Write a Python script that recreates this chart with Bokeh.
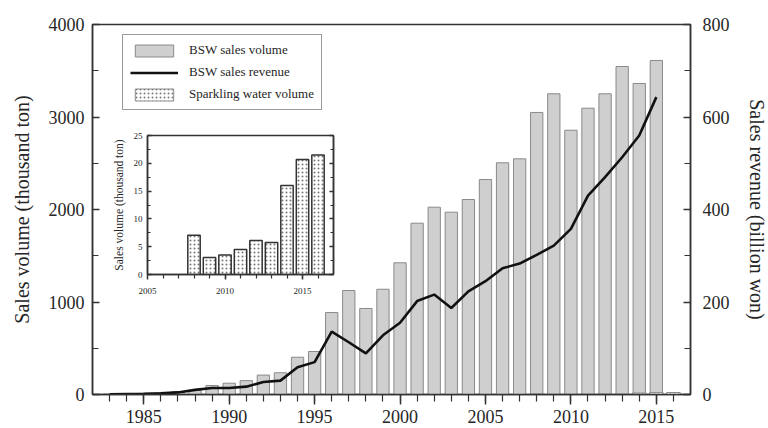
from bokeh.plotting import figure
from bokeh.models import Range1d, LinearAxis, FixedTicker, Legend, LegendItem
from bokeh.layouts import column
from bokeh.embed import file_html
from bokeh.resources import INLINE

# Bottled still water (BSW) market, 1983-2015
years = list(range(1983, 2016))
bsw_volume = [5, 8, 12, 18, 30, 45, 97, 122, 150, 210, 235, 403, 465, 886, 1124,
              930, 1138, 1424, 1852, 2025, 1971, 2108, 2324, 2505, 2548, 3049,
              3251, 2857, 3095, 3251, 3546, 3362, 3611]
bsw_revenue = [0.5, 1, 1.5, 2.5, 4.5, 10, 14, 14, 17, 27, 30, 59, 70, 136, 113,
               89, 128, 155, 202, 216, 187, 223, 245, 273, 283, 302, 322, 358,
               430, 470, 513, 560, 643]

# Sparkling water, 2008-2016
sparkling_years = list(range(2008, 2017))
sparkling_volume = [7.05, 3.05, 3.5, 4.5, 6.1, 5.75, 16.0, 20.7, 21.5]

main_major = [1985, 1990, 1995, 2000, 2005, 2010, 2015]
main_minor = list(range(1983, 2017))
vol_ticks = [0, 1000, 2000, 3000, 4000]
vol_minor = [500, 1500, 2500, 3500]
rev_ticks = [0, 200, 400, 600, 800]
rev_minor = [100, 300, 500, 700]

inset_major = [2005, 2010, 2015]
inset_minor = list(range(2006, 2017))
inset_ticks = [0, 5, 10, 15, 20, 25]
inset_minor_y = [2.5, 7.5, 12.5, 17.5, 22.5]

FONT = "Liberation Serif"
TEXT = "#262626"
AXIS = "#333333"


def style_axis(ax, size):
    ax.axis_line_color = AXIS
    ax.axis_line_width = 1.5
    ax.major_tick_line_color = AXIS
    ax.minor_tick_line_color = AXIS
    ax.major_tick_line_width = 1.5
    ax.minor_tick_line_width = 1.2
    ax.major_label_text_font = FONT
    ax.major_label_text_font_size = size
    ax.major_label_text_color = TEXT
    ax.axis_label_text_font = FONT
    ax.axis_label_text_font_style = "normal"
    ax.axis_label_text_color = TEXT


# ---------------- main chart ----------------
p = figure(width=768, height=428, frame_width=598, frame_height=370,
           x_range=Range1d(1982, 2017), y_range=Range1d(0, 4000),
           output_backend="svg", toolbar_location=None,
           min_border_left=92, min_border_right=78,
           min_border_top=24, min_border_bottom=34)
p.frame_align = False
p.extra_y_ranges = {"rev": Range1d(0, 800)}
p.xgrid.visible = False
p.ygrid.visible = False
p.outline_line_color = AXIS
p.outline_line_width = 1.5
# transparent, so the inset underneath shows through
p.background_fill_color = None
p.border_fill_color = None

xa = p.xaxis[0]
xa.ticker = FixedTicker(ticks=main_major, minor_ticks=main_minor)
style_axis(xa, "18px")
xa.major_tick_in = 0
xa.major_tick_out = 10
xa.minor_tick_in = 0
xa.minor_tick_out = 7
xa.major_label_standoff = 5

ya = p.yaxis[0]
ya.ticker = FixedTicker(ticks=vol_ticks, minor_ticks=vol_minor)
style_axis(ya, "18px")
ya.axis_label = "Sales volume (thousand ton)"
ya.axis_label_text_font_size = "20px"
ya.major_tick_in = 7
ya.major_tick_out = 0
ya.minor_tick_in = 6
ya.minor_tick_out = 0
ya.major_label_standoff = 8
ya.axis_label_standoff = 13

ra = LinearAxis(y_range_name="rev", axis_label="Sales revenue (billion won)",
                ticker=FixedTicker(ticks=rev_ticks, minor_ticks=rev_minor))
style_axis(ra, "18px")
ra.axis_label_text_font_size = "20px"
ra.axis_label_orientation = "vertical"
ra.major_tick_in = 7
ra.major_tick_out = 0
ra.minor_tick_in = 6
ra.minor_tick_out = 0
ra.major_label_standoff = 12
ra.axis_label_standoff = 13
p.add_layout(ra, "right")

r_vol = p.vbar(x=years, top=bsw_volume, width=0.72, fill_color="#cfcfcf",
               line_color="#8a8a8a", line_width=1)
r_spark = p.vbar(x=sparkling_years, top=sparkling_volume, width=0.8,
                 fill_color="white", line_color="#8a8a8a", line_width=1,
                 hatch_pattern=".", hatch_scale=4, hatch_color="#777777",
                 hatch_weight=1)
r_rev = p.line(x=years, y=bsw_revenue, y_range_name="rev", line_color="#111111",
               line_width=2.6)

legend = Legend(items=[
    LegendItem(label="BSW sales volume", renderers=[r_vol]),
    LegendItem(label="BSW sales revenue", renderers=[r_rev]),
    LegendItem(label="Sparkling water volume", renderers=[r_spark]),
], location=(30, 284), margin=0, padding=7, spacing=6,
    glyph_width=48, glyph_height=15, label_height=15, label_standoff=11,
    label_text_font=FONT, label_text_font_size="13px", label_text_color=TEXT,
    border_line_color=AXIS, border_line_width=1.2,
    background_fill_color="white", background_fill_alpha=1.0)
p.add_layout(legend)

# ---------------- inset: sparkling water ----------------
# spans the full page width; its frame sits at x 147-333 via the borders
q = figure(width=768, height=169, x_range=Range1d(2005, 2017),
           y_range=Range1d(0, 25), output_backend="svg", toolbar_location=None,
           min_border_left=147, min_border_right=435, min_border_top=5,
           min_border_bottom=25)
q.frame_align = False
q.xgrid.visible = False
q.ygrid.visible = False
q.outline_line_color = AXIS
q.outline_line_width = 1.5
q.background_fill_color = None
q.border_fill_color = None

qx = q.xaxis[0]
qx.ticker = FixedTicker(ticks=inset_major, minor_ticks=inset_minor)
style_axis(qx, "9px")
qx.major_tick_in = 0
qx.major_tick_out = 5
qx.minor_tick_in = 0
qx.minor_tick_out = 4
qx.major_label_standoff = 8

qy = q.yaxis[0]
qy.ticker = FixedTicker(ticks=inset_ticks, minor_ticks=inset_minor_y)
style_axis(qy, "9px")
qy.axis_label = "Sales volume (thousand ton)"
qy.axis_label_text_font_size = "11.5px"
qy.major_tick_in = 4
qy.major_tick_out = 0
qy.minor_tick_in = 3
qy.minor_tick_out = 0
qy.major_label_standoff = 5
qy.axis_label_standoff = 6

qr = LinearAxis(ticker=FixedTicker(ticks=inset_ticks, minor_ticks=inset_minor_y))
style_axis(qr, "9px")
qr.major_label_overrides = {t: "" for t in inset_ticks}
qr.major_label_standoff = 0
qr.major_tick_in = 4
qr.major_tick_out = 0
qr.minor_tick_in = 3
qr.minor_tick_out = 0
q.add_layout(qr, "right")

q.vbar(x=sparkling_years, top=sparkling_volume, width=0.8, fill_color="white",
       line_color="#333333", line_width=1.5, hatch_pattern=".", hatch_scale=4,
       hatch_color="#777777", hatch_weight=1)

# inset first (behind), main chart pulled up over it
q.margin = (130, 0, 0, 0)
p.margin = (-299, 0, 0, 0)
layout = column(q, p)
open("out.html", "w").write(file_html(layout, INLINE))
